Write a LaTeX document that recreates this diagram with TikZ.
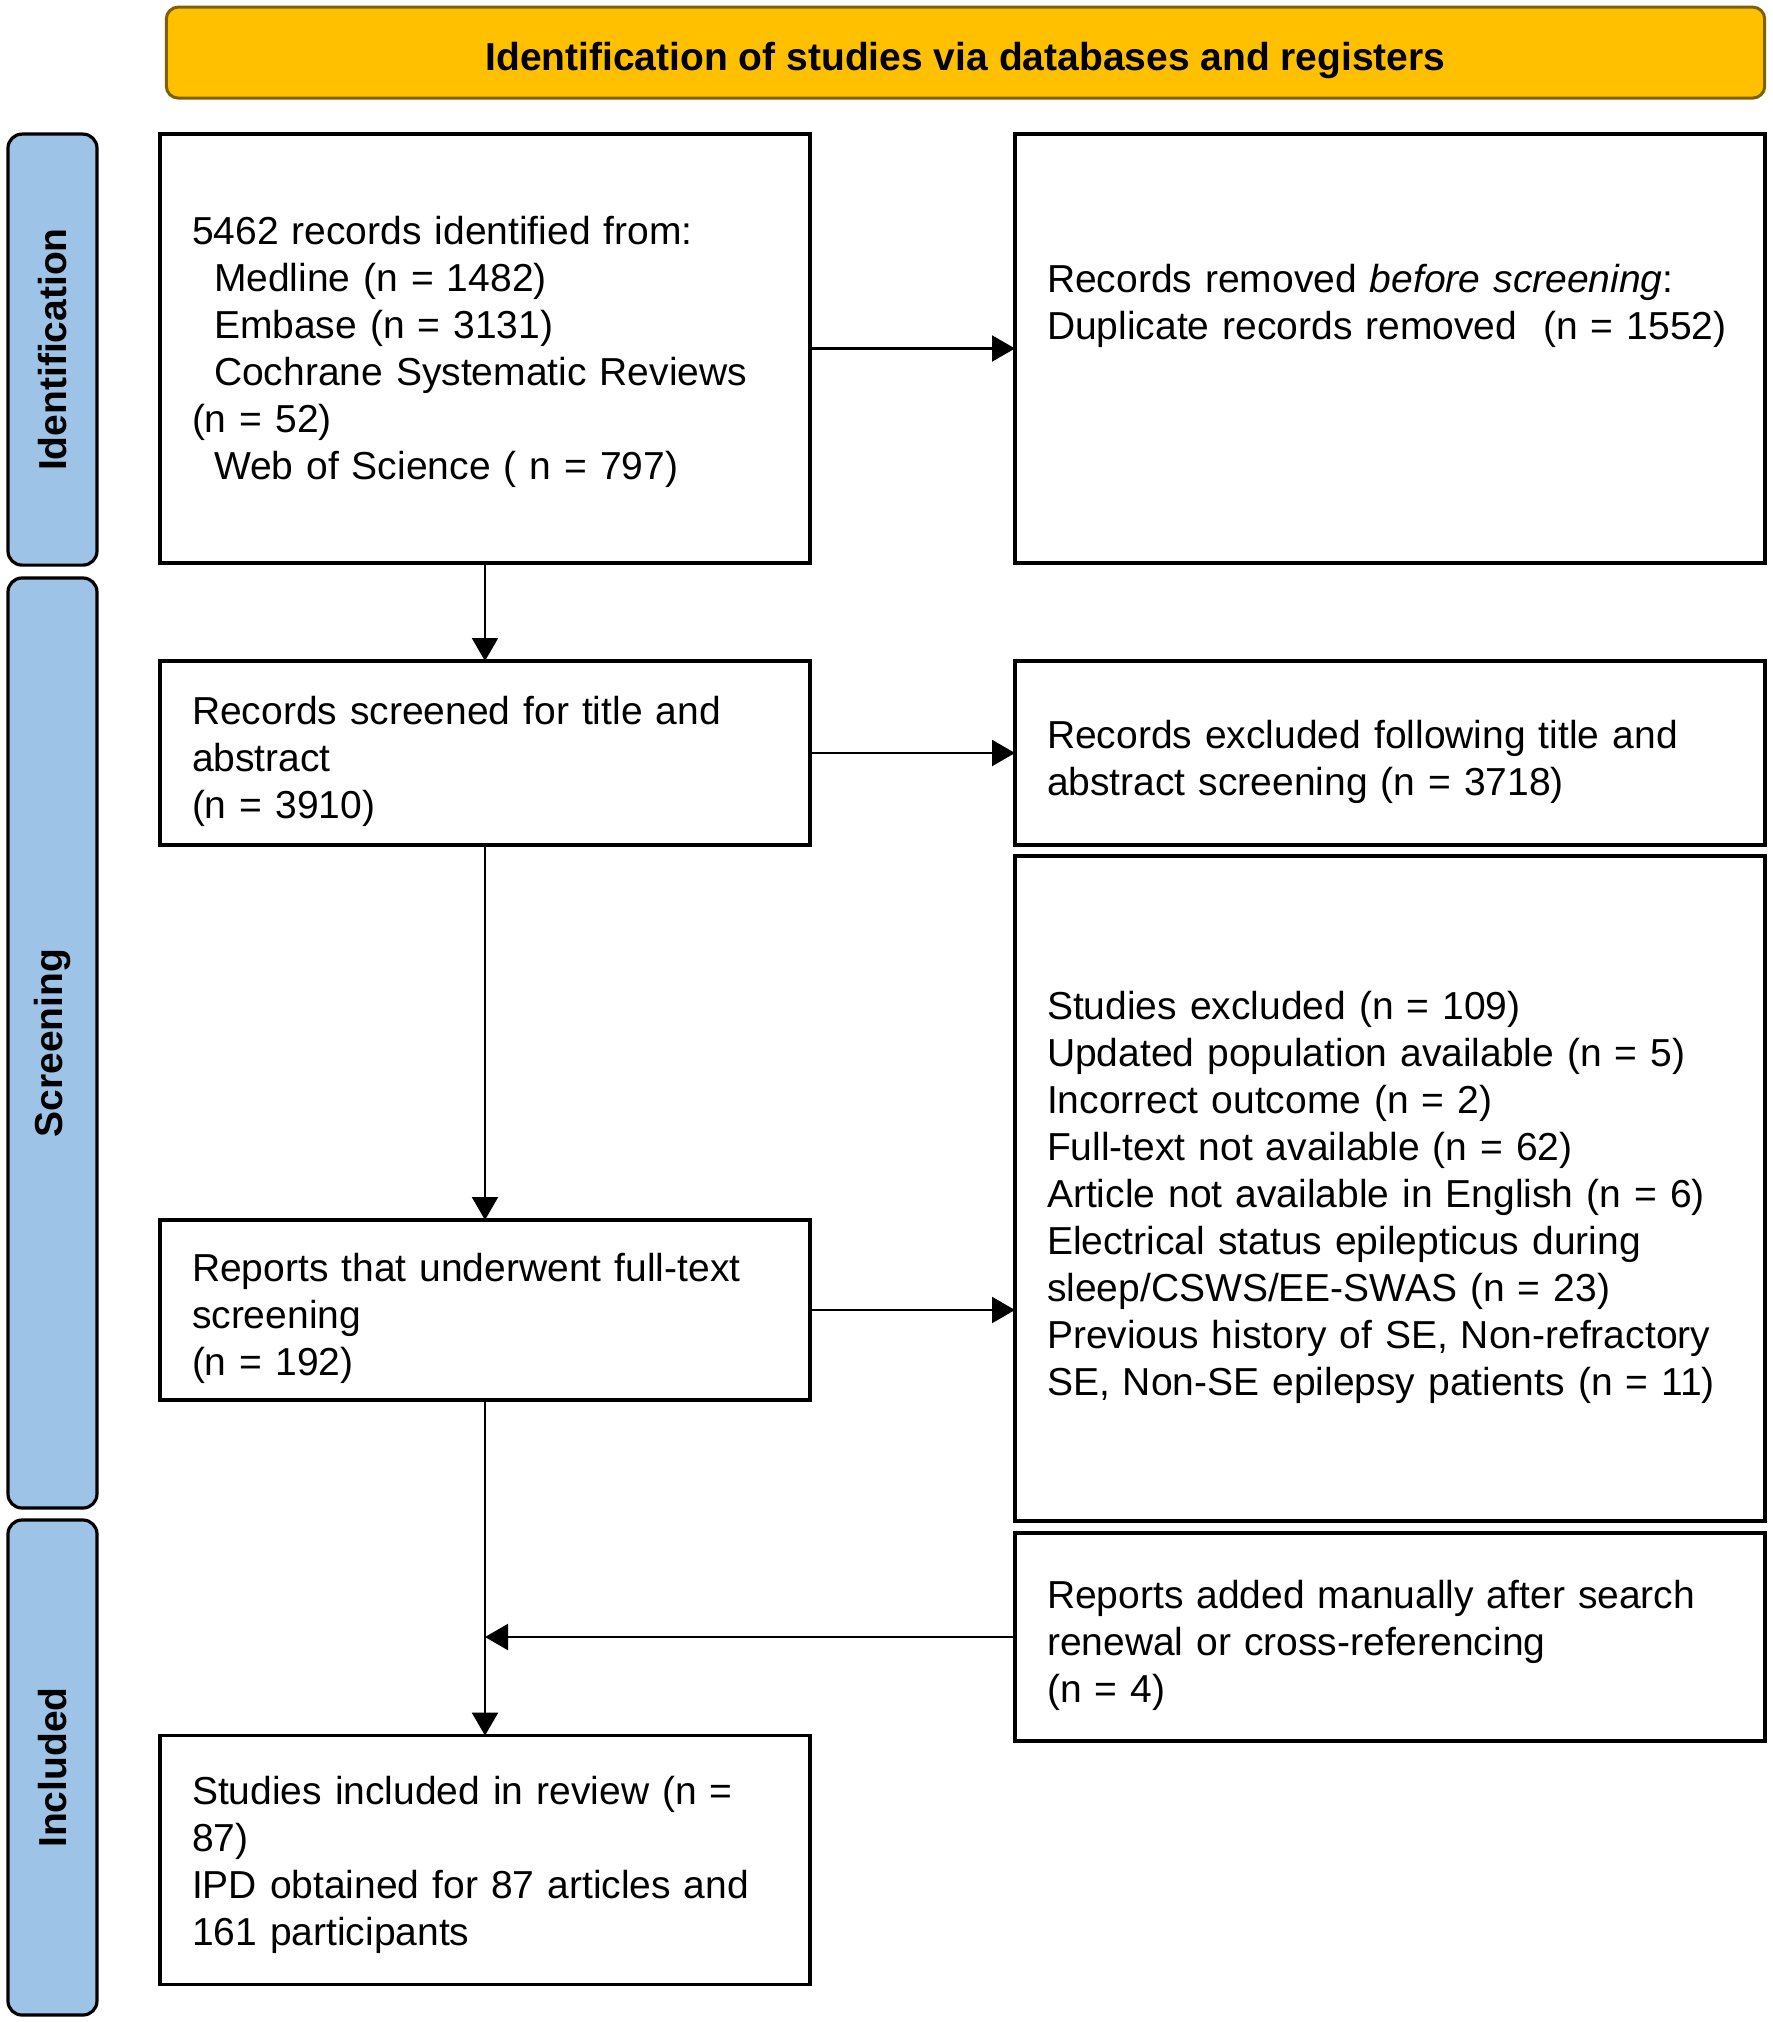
\documentclass[tikz,border=0pt]{standalone}
\usepackage{fontspec}
\setmainfont{Liberation Sans}
\usetikzlibrary{positioning}
\usetikzlibrary{arrows.meta}
\definecolor{headeryellow}{HTML}{FFC000}
\definecolor{headerborder}{HTML}{7F6000}
\definecolor{phaseblue}{HTML}{9DC3E6}

\begin{document}
\begin{tikzpicture}[>={Triangle[length=11.5pt,width=13pt]}, line width=1.1pt, font=\fontsize{19.5}{23.5}\selectfont]
\tikzstyle{leftbox}=[draw=black,line width=1.8pt,outer sep=0pt,inner xsep=16pt,inner ysep=0pt,align=left,text width=293pt,minimum width=325pt]
\tikzstyle{rightbox}=[leftbox,text width=343pt,minimum width=375pt]
\tikzstyle{textdrop}=[execute at begin node={\rule{0pt}{#1}}]
\tikzstyle{phase}=[draw=black,fill=phaseblue,line width=1.6pt,rounded corners=7pt,rotate=90,minimum height=44.5pt,font=\fontsize{19.5}{23.5}\selectfont\bfseries]
\tikzstyle{header}=[draw=headerborder,fill=headeryellow,line width=1.5pt,rounded corners=6pt,minimum width=799.2pt,minimum height=45.5pt,text height=22pt,text depth=3.6pt,font=\fontsize{19.5}{23.5}\selectfont\bfseries]
\useasboundingbox (0pt,0pt) rectangle (886pt,-1011pt);
% title and phases
\node[header] (title) at (482.75pt,-26.3pt) {Identification of studies via databases and registers};
\node[phase,minimum width=215.5pt] (pident) at (26.25pt,-174.8pt) {Identification};
\node[phase,minimum width=465pt]   (pscreen) at (26.25pt,-521.5pt) {Screening};
\node[phase,minimum width=247.5pt] (pincl) at (26.25pt,-883.75pt) {Included};
% left column
\node[leftbox,textdrop=18pt,minimum height=214.5pt] (ident) at (242.5pt,-174.25pt) {5462 records identified from:\\
\hspace*{11pt}Medline (n = 1482)\\
\hspace*{11pt}Embase (n = 3131)\\
\hspace*{11pt}Cochrane Systematic Reviews\\
(n = 52)\\
\hspace*{11pt}Web of Science ( n = 797)};
\node[leftbox,textdrop=23pt,minimum height=92pt,below=49pt of ident] (screened) {Records screened for title and\\abstract\\(n = 3910)};
\node[leftbox,textdrop=23pt,minimum height=90pt,below=187.5pt of screened] (fulltext) {Reports that underwent full-text\\screening\\(n = 192)};
\node[leftbox,textdrop=19pt,minimum height=124.5pt,below=167.8pt of fulltext] (included) {Studies included in review (n =\\87)\\IPD obtained for 87 articles and\\161 participants};
% right column
\node[rightbox,minimum height=214.5pt,right=102.5pt of ident] (removed) {Records removed \textit{before screening}:\\Duplicate records removed\ \ (n = 1552)\\\mbox{}\\\mbox{}};
\node[rightbox,textdrop=23pt,minimum height=92pt,right=102.5pt of screened] (excluded) {Records excluded following title and\\abstract screening (n = 3718)};
\node[rightbox,textdrop=23pt,minimum height=332.5pt,below=5.5pt of excluded] (ftexcl) {Studies excluded (n = 109)\\
Updated population available (n = 5)\\
Incorrect outcome (n = 2)\\
Full-text not available (n = 62)\\
Article not available in English (n = 6)\\
Electrical status epilepticus during\\
sleep/CSWS/EE-SWAS (n = 23)\\
Previous history of SE, Non-refractory\\
SE, Non-SE epilepsy patients (n = 11)};
\node[rightbox,textdrop=23pt,minimum height=104pt,below=6pt of ftexcl] (manual) {Reports added manually after search\\renewal or cross-referencing\\(n = 4)};
% connectors
\draw[->] (ident) -- (removed);
\draw[->] (ident) -- (screened);
\draw[->] (screened) -- (excluded);
\draw[->] (screened) -- (fulltext);
\draw[->] (fulltext.east) -- (fulltext.east -| ftexcl.west);
\draw[->] (fulltext) -- (included);
\draw[->] (manual.west) -- (manual.west -| fulltext.south);
\end{tikzpicture}
\end{document}
